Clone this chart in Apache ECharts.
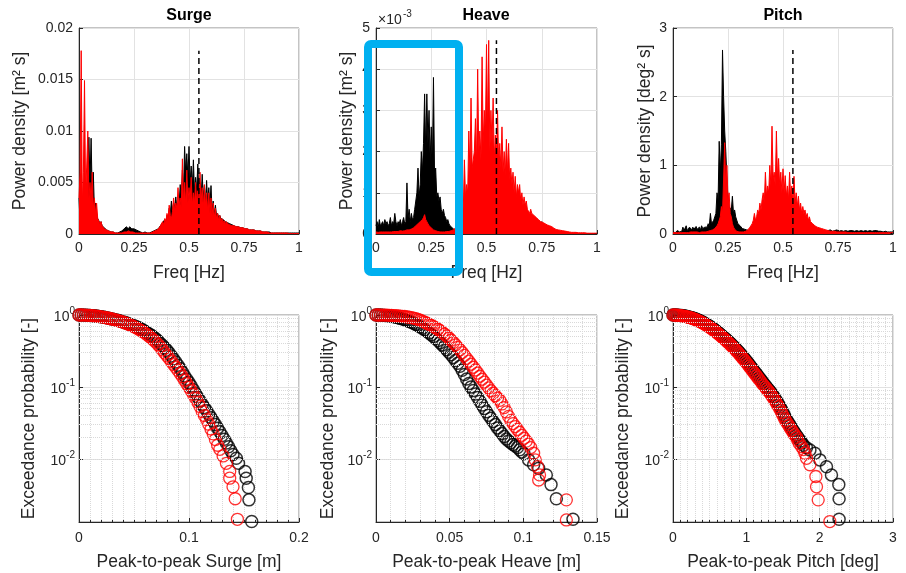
<!DOCTYPE html>
<html><head><meta charset="utf-8">
<script src="https://cdn.jsdelivr.net/npm/echarts@6/dist/echarts.min.js"></script>
<style>html,body{margin:0;padding:0;background:#fff}#c{width:906px;height:573px}</style>
</head><body><div id="c"></div>
<script>
// ---------- DATA ----------
const freq = [0,0.005,0.01,0.015,0.02,0.025,0.03,0.035,0.04,0.045,0.05,0.055,0.06,0.065,0.07,0.075,0.08,0.085,0.09,0.095,
0.1,0.105,0.11,0.115,0.12,0.125,0.13,0.135,0.14,0.145,0.15,0.155,0.16,0.165,0.17,0.175,0.18,0.185,0.19,0.195,
0.2,0.205,0.21,0.215,0.22,0.225,0.23,0.235,0.24,0.245,0.25,0.255,0.26,0.265,0.27,0.275,0.28,0.285,0.29,0.295,
0.3,0.305,0.31,0.315,0.32,0.325,0.33,0.335,0.34,0.345,0.35,0.355,0.36,0.365,0.37,0.375,0.38,0.385,0.39,0.395,
0.4,0.405,0.41,0.415,0.42,0.425,0.43,0.435,0.44,0.445,0.45,0.455,0.46,0.465,0.47,0.475,0.48,0.485,0.49,0.495,
0.5,0.505,0.51,0.515,0.52,0.525,0.53,0.535,0.54,0.545,0.55,0.555,0.56,0.565,0.57,0.575,0.58,0.585,0.59,0.595,
0.6,0.605,0.61,0.615,0.62,0.625,0.63,0.635,0.64,0.645,0.65,0.655,0.66,0.665,0.67,0.675,0.68,0.685,0.69,0.695,
0.7,0.705,0.71,0.715,0.72,0.725,0.73,0.735,0.74,0.745,0.75,0.755,0.76,0.765,0.77,0.775,0.78,0.785,0.79,0.795,
0.8,0.805,0.81,0.815,0.82,0.825,0.83,0.835,0.84,0.845,0.85,0.855,0.86,0.865,0.87,0.875,0.88,0.885,0.89,0.895,
0.9,0.905,0.91,0.915,0.92,0.925,0.93,0.935,0.94,0.945,0.95,0.955,0.96,0.965,0.97,0.975,0.98,0.985,0.99,0.995,1];

const surgePsdBlack = [0.0035,0.0010,0.0030,0.0008,0.0025,0.0010,0.0030,0.0015,0.0060,0.0094,0.0050,0.0093,0.0040,0.0060,0.0025,0.0030,0.0020,0.0015,0.0013,0.0010,
0.0012,0.0008,0.0008,0.0006,0.0006,0.0004,0.0004,0.0003,0.0003,0.0002,0.0002,0.0002,0.0002,0.0001,0.0001,0.0001,0.0002,0.0002,0.0003,0.0003,
0.0004,0.0005,0.0006,0.0007,0.0006,0.0005,0.0007,0.0008,0.0005,0.0006,0.0005,0.0004,0.0004,0.0003,0.0003,0.0002,0.0002,0.0002,0.0001,0.0001,
0.0002,0.0001,0.0001,0.0001,0.0001,0.0002,0.0002,0.0002,0.0003,0.0002,0.0004,0.0003,0.0005,0.0005,0.0008,0.0007,0.0011,0.0010,0.0014,0.0012,
0.0018,0.0016,0.0025,0.0020,0.0032,0.0022,0.0030,0.0026,0.0036,0.0025,0.0030,0.0028,0.0048,0.0035,0.0062,0.0040,0.0085,0.0060,0.0078,0.0055,
0.0085,0.0050,0.0066,0.0045,0.0072,0.0040,0.0055,0.0042,0.0068,0.0038,0.0050,0.0035,0.0058,0.0036,0.0047,0.0030,0.0052,0.0030,0.0045,0.0028,
0.0047,0.0022,0.0032,0.0018,0.0028,0.0018,0.0020,0.0016,0.0018,0.0015,0.0016,0.0014,0.0014,0.0012,0.0012,0.0011,0.0011,0.0010,0.0010,0.0009,
0.0009,0.0008,0.0008,0.0007,0.0007,0.0007,0.0007,0.0006,0.0006,0.0006,0.0006,0.0005,0.0005,0.0005,0.0005,0.0004,0.0004,0.0004,0.0004,0.0004,
0.0004,0.0003,0.0003,0.0003,0.0003,0.0003,0.0003,0.0002,0.0002,0.0002,0.0002,0.0002,0.0002,0.0002,0.0001,0.0001,0.0001,0.0001,0.0001,0.0001,
0.0001,0.0001,0.0001,0.0001,0.0001,0.0001,0.0001,0.0001,0.0001,0.0001,0.0001,0.0001,0.0001,0.0001,0.0001,0.0001,0.0001,0.0001,0.0001,0.0001,0.0001];
const surgePsdRed = [0.0035,0.0060,0.0178,0.0030,0.0060,0.0149,0.0040,0.0065,0.0100,0.0035,0.0050,0.0030,0.0060,0.0025,0.0035,0.0020,0.0030,0.0015,0.0015,0.0010,
0.0012,0.0008,0.0007,0.0005,0.0006,0.0004,0.0004,0.0003,0.0003,0.0002,0.0002,0.0002,0.0001,0.0001,0.0001,0.0001,0.0001,0.0001,0.0001,0.0001,
0.0001,0.0002,0.0002,0.0002,0.0002,0.0003,0.0002,0.0002,0.0002,0.0002,0.0001,0.0001,0.0001,0.0001,0.0001,0.0001,0.0001,0.0001,0.0001,0.0001,
0.0001,0.0001,0.0001,0.0001,0.0001,0.0001,0.0002,0.0002,0.0002,0.0003,0.0003,0.0004,0.0005,0.0006,0.0008,0.0007,0.0012,0.0009,0.0015,0.0012,
0.0020,0.0015,0.0028,0.0018,0.0015,0.0022,0.0035,0.0022,0.0030,0.0025,0.0045,0.0028,0.0035,0.0025,0.0073,0.0030,0.0050,0.0028,0.0062,0.0030,
0.0045,0.0032,0.0055,0.0028,0.0040,0.0030,0.0050,0.0030,0.0042,0.0028,0.0060,0.0030,0.0045,0.0025,0.0048,0.0028,0.0040,0.0022,0.0040,0.0020,
0.0035,0.0018,0.0030,0.0016,0.0025,0.0015,0.0020,0.0013,0.0018,0.0012,0.0015,0.0011,0.0013,0.0010,0.0012,0.0010,0.0010,0.0009,0.0009,0.0008,
0.0009,0.0008,0.0008,0.0007,0.0007,0.0007,0.0007,0.0006,0.0006,0.0006,0.0006,0.0005,0.0005,0.0005,0.0005,0.0004,0.0005,0.0004,0.0004,0.0004,
0.0004,0.0003,0.0004,0.0003,0.0003,0.0003,0.0003,0.0002,0.0002,0.0002,0.0002,0.0002,0.0002,0.0001,0.0001,0.0001,0.0001,0.0001,0.0001,0.0001,
0.0001,0.0001,0.0001,0.0001,0.0001,0.0001,0.0001,0.0001,0.0001,0.0001,0.00005,0.00005,0.00005,0.00005,0.00005,0.00005,0.00005,0.00005,0.00005,0.00005,0.00005];

// heave PSD in units of 1e-3 m^2 s
const heavePsdBlack = [0.2,0.3,0.15,0.35,0.2,0.25,0.3,0.2,0.35,0.25,0.3,0.2,0.25,0.4,0.2,0.3,0.25,0.5,0.3,0.2,
0.3,0.25,0.35,0.2,0.3,0.4,0.25,0.3,1.24,0.4,0.6,0.3,0.5,0.35,0.4,0.6,0.8,1.0,1.6,0.9,
1.2,2.0,1.5,2.2,3.4,2.0,3.4,2.2,3.0,1.8,2.6,1.6,3.8,1.4,1.6,0.9,1.0,0.8,0.9,0.6,
0.5,0.6,0.45,0.4,0.3,0.35,0.25,0.2,0.2,0.15,0.15,0.1,0.1,0.15,0.1,0.12,0.15,0.2,0.15,0.25,
0.3,0.2,0.35,0.25,0.4,0.2,0.3,0.35,0.5,0.25,0.4,0.3,0.35,0.45,0.3,0.35,0.3,0.4,0.5,0.3,
0.4,0.45,0.35,0.5,0.6,0.3,0.5,0.4,0.35,0.45,0.4,0.5,0.45,0.35,0.4,0.3,0.45,0.4,0.35,0.4,
0.5,0.35,0.4,0.45,0.3,0.4,0.35,0.45,0.4,0.3,0.35,0.45,0.4,0.5,0.45,0.4,0.55,0.35,0.4,0.35,
0.35,0.4,0.3,0.35,0.4,0.3,0.35,0.25,0.3,0.25,0.3,0.2,0.25,0.2,0.2,0.15,0.15,0.12,0.1,0.1,
0.1,0.08,0.06,0.05,0.04,0.04,0.03,0.03,0.02,0.02,0.02,0.02,0.02,0.01,0.01,0.01,0.01,0.01,0.01,0.01,
0.01,0.01,0.01,0.01,0.01,0.01,0.01,0.01,0.01,0.01,0.01,0.01,0.01,0.01,0.01,0.01,0.01,0.01,0.01,0.01,0.01];
const heavePsdRed = [0.05,0.05,0.04,0.05,0.05,0.06,0.05,0.05,0.05,0.06,0.05,0.06,0.05,0.06,0.05,0.07,0.06,0.07,0.06,0.07,
0.06,0.07,0.08,0.07,0.07,0.08,0.08,0.09,0.1,0.1,0.1,0.11,0.12,0.13,0.15,0.17,0.2,0.22,0.25,0.27,
0.3,0.32,0.35,0.4,0.47,0.35,0.3,0.25,0.2,0.17,0.15,0.12,0.1,0.09,0.08,0.07,0.06,0.06,0.05,0.05,
0.05,0.05,0.05,0.05,0.06,0.06,0.06,0.07,0.08,0.09,0.1,0.12,0.15,0.2,0.25,0.35,0.5,0.4,0.9,0.6,
1.8,0.9,1.2,1.0,2.5,1.5,3.3,1.6,1.8,2.0,2.8,1.7,4.0,2.0,2.5,1.8,4.3,2.2,3.0,2.4,
4.6,2.5,4.7,2.0,3.0,2.2,3.3,1.8,2.4,1.9,3.0,1.7,2.2,1.6,2.6,1.5,2.0,1.4,2.3,1.5,
2.2,1.3,1.6,1.2,1.5,1.0,1.4,0.9,1.2,1.0,1.2,0.8,1.0,0.7,0.9,0.7,0.8,0.6,0.6,0.5,
0.6,0.5,0.5,0.45,0.45,0.4,0.4,0.35,0.35,0.3,0.3,0.28,0.3,0.25,0.25,0.22,0.2,0.2,0.18,0.18,
0.15,0.14,0.12,0.11,0.1,0.1,0.1,0.09,0.08,0.08,0.07,0.07,0.06,0.06,0.05,0.05,0.05,0.04,0.04,0.04,
0.04,0.04,0.03,0.03,0.03,0.03,0.03,0.03,0.03,0.03,0.02,0.02,0.02,0.02,0.02,0.02,0.02,0.02,0.02,0.02,0.02];

const pitchPsdBlack = [0.03,0.02,0.02,0.04,0.05,0.03,0.03,0.05,0.04,0.1,0.05,0.06,0.12,0.05,0.06,0.1,0.08,0.06,0.1,0.07,
0.08,0.11,0.07,0.08,0.1,0.06,0.12,0.08,0.09,0.1,0.12,0.1,0.15,0.12,0.3,0.15,0.15,0.2,0.25,0.3,
0.6,0.5,1.35,0.9,1.3,2.68,2.0,1.5,1.2,0.8,0.5,0.4,0.4,0.35,0.55,0.3,0.35,0.25,0.2,0.15,
0.15,0.12,0.1,0.08,0.08,0.07,0.08,0.06,0.06,0.05,0.05,0.04,0.05,0.05,0.06,0.05,0.05,0.07,0.06,0.05,
0.06,0.07,0.08,0.06,0.1,0.07,0.06,0.08,0.1,0.07,0.08,0.1,0.12,0.09,0.1,0.08,0.08,0.1,0.1,0.08,
0.12,0.09,0.1,0.08,0.09,0.1,0.08,0.07,0.07,0.1,0.1,0.08,0.08,0.09,0.09,0.07,0.07,0.06,0.06,0.08,
0.08,0.07,0.07,0.06,0.06,0.07,0.07,0.05,0.05,0.06,0.06,0.07,0.07,0.05,0.05,0.06,0.06,0.05,0.05,0.04,
0.04,0.05,0.05,0.06,0.06,0.04,0.04,0.05,0.05,0.06,0.06,0.04,0.04,0.05,0.05,0.04,0.04,0.05,0.05,0.04,
0.06,0.05,0.04,0.05,0.05,0.04,0.04,0.05,0.05,0.04,0.04,0.05,0.05,0.04,0.04,0.05,0.05,0.04,0.04,0.05,
0.05,0.04,0.04,0.05,0.07,0.05,0.05,0.04,0.04,0.04,0.04,0.03,0.03,0.04,0.04,0.03,0.03,0.03,0.03,0.03,0.03];
const pitchPsdRed = [0.02,0.02,0.02,0.02,0.02,0.02,0.02,0.02,0.02,0.02,0.02,0.02,0.02,0.02,0.02,0.02,0.03,0.02,0.03,0.02,
0.03,0.03,0.03,0.02,0.02,0.03,0.03,0.03,0.03,0.03,0.03,0.03,0.04,0.04,0.05,0.05,0.06,0.07,0.08,0.1,
0.12,0.15,0.2,0.25,0.4,0.3,0.8,1.33,0.6,1.0,0.5,0.6,0.3,0.25,0.15,0.1,0.07,0.05,0.04,0.04,
0.03,0.03,0.03,0.03,0.03,0.04,0.04,0.05,0.06,0.08,0.1,0.12,0.15,0.2,0.3,0.2,0.25,0.35,0.3,0.45,
0.35,0.5,0.6,0.45,0.9,0.55,0.7,0.6,1.0,0.7,1.57,0.8,0.9,0.7,1.5,0.8,1.1,0.7,0.9,0.6,
0.95,0.6,0.85,0.55,0.7,0.5,0.9,0.5,0.7,0.45,0.84,0.45,0.6,0.4,0.55,0.35,0.45,0.3,0.4,0.3,
0.35,0.25,0.3,0.2,0.25,0.18,0.2,0.15,0.15,0.12,0.12,0.1,0.1,0.09,0.08,0.08,0.07,0.07,0.06,0.06,
0.05,0.05,0.05,0.04,0.04,0.04,0.04,0.04,0.03,0.03,0.03,0.03,0.03,0.03,0.03,0.03,0.03,0.03,0.02,0.02,
0.02,0.02,0.02,0.02,0.02,0.02,0.02,0.02,0.02,0.02,0.02,0.02,0.02,0.02,0.02,0.02,0.02,0.02,0.02,0.02,
0.02,0.02,0.02,0.02,0.02,0.02,0.02,0.02,0.02,0.02,0.02,0.02,0.02,0.02,0.02,0.02,0.02,0.02,0.02,0.02,0.02];

const peakFreq = 0.545;
const dashTops = [0.0178, 4.7, 2.68];

// exceedance: [peak-to-peak value, probability]
const surgeExcBlack = [[0,1],[0.002,0.9994],[0.004,0.998],[0.006,0.995],[0.008,0.991],[0.010,0.986],[0.012,0.980],[0.014,0.973],[0.016,0.965],[0.018,0.956],[0.020,0.946],[0.022,0.935],[0.024,0.923],[0.026,0.911],[0.028,0.897],[0.030,0.883],[0.032,0.868],[0.034,0.852],[0.036,0.836],[0.038,0.819],[0.040,0.802],[0.042,0.784],[0.044,0.765],[0.046,0.746],[0.048,0.727],[0.050,0.708],[0.052,0.688],[0.054,0.668],[0.056,0.644],[0.058,0.618],[0.060,0.593],[0.062,0.568],[0.064,0.542],[0.066,0.519],[0.068,0.492],[0.070,0.464],[0.072,0.434],[0.074,0.403],[0.076,0.376],[0.078,0.350],[0.080,0.324],[0.082,0.297],[0.084,0.270],[0.086,0.245],[0.088,0.222],[0.090,0.201],[0.092,0.180],[0.094,0.160],[0.096,0.142],[0.098,0.128],[0.100,0.115],[0.102,0.103],[0.104,0.0916],[0.106,0.0813],[0.108,0.0719],[0.110,0.0643],[0.112,0.0573],[0.114,0.0517],[0.116,0.0466],[0.118,0.0418],[0.120,0.0375],[0.122,0.0336],[0.124,0.0300],[0.126,0.0268],[0.128,0.0239],[0.130,0.0212],[0.132,0.0188],[0.134,0.0167],[0.136,0.0148],[0.138,0.0130],[0.140,0.0115],[0.143,0.0102],[0.145,0.0087],[0.151,0.0067],[0.152,0.0054],[0.154,0.0040],[0.1545,0.0027],[0.157,0.00135]];
const surgeExcRed = [[0,1],[0.002,0.9994],[0.004,0.998],[0.006,0.995],[0.008,0.991],[0.010,0.986],[0.012,0.980],[0.014,0.972],[0.016,0.964],[0.018,0.955],[0.020,0.944],[0.022,0.933],[0.024,0.921],[0.026,0.908],[0.028,0.894],[0.030,0.880],[0.032,0.864],[0.034,0.848],[0.036,0.831],[0.038,0.814],[0.040,0.796],[0.042,0.776],[0.044,0.755],[0.046,0.733],[0.048,0.711],[0.050,0.688],[0.052,0.663],[0.054,0.638],[0.056,0.612],[0.058,0.586],[0.060,0.560],[0.062,0.531],[0.064,0.502],[0.066,0.474],[0.068,0.445],[0.070,0.417],[0.072,0.387],[0.074,0.358],[0.076,0.327],[0.078,0.296],[0.080,0.271],[0.082,0.248],[0.084,0.226],[0.086,0.205],[0.088,0.187],[0.090,0.170],[0.092,0.154],[0.094,0.139],[0.096,0.124],[0.098,0.111],[0.100,0.0989],[0.102,0.0886],[0.104,0.0788],[0.106,0.0696],[0.108,0.0612],[0.110,0.0536],[0.112,0.0455],[0.114,0.0401],[0.116,0.0352],[0.118,0.0304],[0.120,0.0261],[0.122,0.0223],[0.124,0.0186],[0.126,0.0155],[0.128,0.0136],[0.131,0.011],[0.134,0.0087],[0.137,0.0067],[0.137,0.0054],[0.140,0.0041],[0.142,0.0028],[0.144,0.00145]];
const heaveExcBlack = [[0,1],[0.0015,0.9991],[0.003,0.9965],[0.0045,0.992],[0.006,0.986],[0.0075,0.978],[0.009,0.969],[0.0105,0.958],[0.012,0.945],[0.0135,0.931],[0.015,0.916],[0.0165,0.898],[0.018,0.879],[0.0195,0.859],[0.021,0.837],[0.0225,0.815],[0.024,0.791],[0.0255,0.766],[0.027,0.740],[0.0285,0.713],[0.030,0.684],[0.0315,0.655],[0.033,0.624],[0.0345,0.594],[0.036,0.562],[0.0375,0.532],[0.039,0.502],[0.0405,0.472],[0.042,0.442],[0.0435,0.413],[0.045,0.384],[0.0465,0.357],[0.048,0.330],[0.0495,0.304],[0.051,0.280],[0.0525,0.257],[0.054,0.234],[0.0555,0.214],[0.057,0.194],[0.0585,0.171],[0.060,0.149],[0.0615,0.129],[0.063,0.112],[0.0645,0.1003],[0.066,0.0892],[0.0675,0.0798],[0.069,0.0712],[0.0705,0.0634],[0.072,0.0563],[0.0735,0.0502],[0.075,0.0452],[0.0765,0.0405],[0.078,0.0367],[0.0795,0.0332],[0.081,0.0300],[0.0825,0.0270],[0.084,0.0246],[0.0855,0.0226],[0.087,0.0205],[0.0885,0.0189],[0.090,0.0178],[0.0915,0.0168],[0.093,0.0159],[0.0945,0.0151],[0.096,0.0144],[0.0975,0.0134],[0.099,0.0125],[0.1005,0.0118],[0.1036,0.0097],[0.107,0.0083],[0.1104,0.0074],[0.1156,0.006],[0.1188,0.0044],[0.1224,0.0028],[0.1337,0.00145]];
const heaveExcRed = [[0,1],[0.0015,0.9997],[0.003,0.9989],[0.0045,0.9974],[0.006,0.9954],[0.0075,0.9929],[0.009,0.990],[0.0105,0.986],[0.012,0.982],[0.0135,0.977],[0.015,0.972],[0.0165,0.966],[0.018,0.960],[0.0195,0.953],[0.021,0.944],[0.0225,0.932],[0.024,0.921],[0.0255,0.906],[0.027,0.889],[0.0285,0.869],[0.030,0.847],[0.0315,0.823],[0.033,0.798],[0.0345,0.768],[0.036,0.743],[0.0375,0.719],[0.039,0.691],[0.0405,0.663],[0.042,0.634],[0.0435,0.605],[0.045,0.574],[0.0465,0.543],[0.048,0.512],[0.0495,0.478],[0.051,0.446],[0.0525,0.414],[0.054,0.385],[0.0555,0.355],[0.057,0.328],[0.0585,0.301],[0.060,0.274],[0.0615,0.250],[0.063,0.228],[0.0645,0.207],[0.066,0.188],[0.0675,0.172],[0.069,0.156],[0.0705,0.141],[0.072,0.128],[0.0735,0.117],[0.075,0.1064],[0.0765,0.0972],[0.078,0.0886],[0.0795,0.0818],[0.081,0.0755],[0.0825,0.0702],[0.084,0.0653],[0.0855,0.0581],[0.087,0.0517],[0.0885,0.0450],[0.090,0.0390],[0.0915,0.0343],[0.093,0.0310],[0.0945,0.0282],[0.096,0.0257],[0.0975,0.0234],[0.099,0.0213],[0.1005,0.0194],[0.102,0.0177],[0.1035,0.0161],[0.105,0.0144],[0.107,0.012],[0.1081,0.0097],[0.1097,0.0078],[0.111,0.006],[0.1104,0.0051],[0.1292,0.0027],[0.1292,0.00142]];
const pitchExcBlack = [[0,1],[0.02,0.9995],[0.04,0.9979],[0.06,0.9952],[0.08,0.9915],[0.10,0.9867],[0.12,0.9810],[0.14,0.9742],[0.16,0.9664],[0.18,0.9577],[0.20,0.9480],[0.22,0.9374],[0.24,0.9260],[0.26,0.9138],[0.28,0.9006],[0.30,0.8858],[0.32,0.8700],[0.34,0.8536],[0.36,0.8362],[0.38,0.8177],[0.40,0.7988],[0.42,0.7790],[0.44,0.7586],[0.46,0.7375],[0.48,0.7166],[0.50,0.6958],[0.52,0.6747],[0.54,0.6534],[0.56,0.6318],[0.58,0.6101],[0.60,0.5884],[0.62,0.5671],[0.64,0.5458],[0.66,0.5248],[0.68,0.5038],[0.70,0.4836],[0.72,0.4637],[0.74,0.4445],[0.76,0.4258],[0.78,0.4074],[0.80,0.3894],[0.82,0.3718],[0.84,0.3547],[0.86,0.3380],[0.88,0.3218],[0.90,0.3054],[0.92,0.2894],[0.94,0.2742],[0.96,0.2594],[0.98,0.2449],[1.00,0.2312],[1.02,0.2180],[1.04,0.2052],[1.06,0.1929],[1.08,0.1812],[1.10,0.1699],[1.12,0.1602],[1.14,0.1509],[1.16,0.1420],[1.18,0.1335],[1.20,0.1255],[1.22,0.1178],[1.24,0.1105],[1.26,0.1044],[1.28,0.0986],[1.30,0.0931],[1.32,0.0879],[1.34,0.0830],[1.36,0.0777],[1.38,0.0723],[1.40,0.0670],[1.42,0.0622],[1.44,0.0575],[1.46,0.0531],[1.48,0.0485],[1.50,0.0442],[1.52,0.0402],[1.54,0.0365],[1.56,0.0337],[1.58,0.0312],[1.60,0.0289],[1.62,0.0268],[1.64,0.0248],[1.66,0.0231],[1.68,0.0215],[1.70,0.0201],[1.72,0.0188],[1.74,0.0177],[1.76,0.0166],[1.78,0.0155],[1.82,0.0143],[1.867,0.0133],[1.935,0.012],[2.003,0.0097],[2.093,0.0078],[2.161,0.006],[2.261,0.0044],[2.265,0.0028],[2.265,0.00145]];
const pitchExcRed = [[0,1],[0.02,0.9979],[0.04,0.9952],[0.06,0.9915],[0.08,0.9867],[0.10,0.9810],[0.12,0.9742],[0.14,0.9664],[0.16,0.9577],[0.18,0.9480],[0.20,0.9374],[0.22,0.9260],[0.24,0.9138],[0.26,0.9006],[0.28,0.8858],[0.30,0.8700],[0.32,0.8536],[0.34,0.8362],[0.36,0.8177],[0.38,0.7988],[0.40,0.7790],[0.42,0.7586],[0.44,0.7375],[0.46,0.7166],[0.48,0.6958],[0.50,0.6747],[0.52,0.6534],[0.54,0.6318],[0.56,0.6101],[0.58,0.5884],[0.60,0.5671],[0.62,0.5458],[0.64,0.5248],[0.66,0.5038],[0.68,0.4836],[0.70,0.4637],[0.72,0.4445],[0.74,0.4258],[0.76,0.4074],[0.78,0.3894],[0.80,0.3718],[0.82,0.3547],[0.84,0.3380],[0.86,0.3218],[0.88,0.3054],[0.90,0.2894],[0.92,0.2742],[0.94,0.2594],[0.96,0.2449],[0.98,0.2312],[1.00,0.2180],[1.02,0.2052],[1.04,0.1929],[1.06,0.1812],[1.08,0.1699],[1.10,0.1602],[1.12,0.1509],[1.14,0.1420],[1.16,0.1335],[1.18,0.1255],[1.20,0.1178],[1.22,0.1105],[1.24,0.1044],[1.26,0.0986],[1.28,0.0931],[1.30,0.0879],[1.32,0.0830],[1.34,0.0777],[1.36,0.0723],[1.38,0.0670],[1.40,0.0622],[1.42,0.0575],[1.44,0.0531],[1.46,0.0485],[1.48,0.0442],[1.50,0.0402],[1.52,0.0365],[1.54,0.0337],[1.56,0.0312],[1.58,0.0289],[1.60,0.0268],[1.62,0.0248],[1.64,0.0231],[1.66,0.0215],[1.686,0.0200],[1.70,0.0184],[1.72,0.0165],[1.753,0.0148],[1.78,0.0135],[1.799,0.012],[1.821,0.0102],[1.867,0.0083],[1.948,0.0057],[1.957,0.0041],[1.98,0.0027],[2.139,0.00135]];

const titles = ['Surge','Heave','Pitch'];
const psdYNames = ['Power density [m\u00b2 s]','Power density [m\u00b2 s]','Power density [deg\u00b2 s]'];
const psdYMax = [0.02, 5, 3];
const psdYInterval = [0.005, 1, 1];
const excXNames = ['Peak-to-peak Surge [m]','Peak-to-peak Heave [m]','Peak-to-peak Pitch [deg]'];
const excXMax = [0.2, 0.15, 3];
const excXInterval = [0.1, 0.05, 1];
const excXMinorSplit = [10, 5, 10];
const logMinorTicks = [0.002,0.003,0.004,0.005,0.006,0.007,0.008,0.009,0.02,0.03,0.04,0.05,0.06,0.07,0.08,0.09,0.2,0.3,0.4,0.5,0.6,0.7,0.8,0.9];

// ---------- CHART ----------
const FONT = 'Liberation Sans, Arial, Helvetica, sans-serif';
const TXT = '#262626';
const lefts = [79, 376, 673];
const widths = [220, 221, 220];
const psdNameGap = [50, 20, 19];
const excNameGap = [41, 39, 41];

const grids = [], xAxes = [], yAxes = [], series = [];
const psdBlack = [surgePsdBlack, heavePsdBlack, pitchPsdBlack];
const psdRed = [surgePsdRed, heavePsdRed, pitchPsdRed];
const excBlack = [surgeExcBlack, heaveExcBlack, pitchExcBlack];
const excRed = [surgeExcRed, heaveExcRed, pitchExcRed];

function pairs(vals){ return freq.map((f,i)=>[f, vals[i]]); }

const axisLine = {show:true, onZero:false, lineStyle:{color:TXT, width:1}};
const axisTick = {show:true, inside:true, length:4, lineStyle:{color:TXT}};
const splitLine = {show:true, lineStyle:{color:'#e2e2e2', width:1}};
const label = {color:TXT, fontSize:14, fontFamily:FONT};
const nameStyle = {color:TXT, fontSize:17.5, fontFamily:FONT};

for (let k=0;k<3;k++){
  grids.push({left:lefts[k], top:28, width:widths[k], height:206, show:true, borderColor:'#888', borderWidth:1, backgroundColor:'transparent'});
  xAxes.push({gridIndex:k, type:'value', min:0, max:1, interval:0.25, axisLine, axisTick, splitLine,
    axisLabel:{...label, margin:7}, name:'Freq [Hz]', nameLocation:'middle', nameGap:30, nameTextStyle:nameStyle});
  yAxes.push({gridIndex:k, type:'value', min:0, max:psdYMax[k], interval:psdYInterval[k], axisLine, axisTick, splitLine,
    axisLabel:{...label, margin:6}, name:psdYNames[k], nameLocation:'middle', nameGap:psdNameGap[k], nameTextStyle:nameStyle});
  series.push({type:'line', xAxisIndex:k, yAxisIndex:k, data:pairs(psdBlack[k]), showSymbol:false, symbol:'none',
    lineStyle:{color:'#000', width:1}, areaStyle:{color:'#000', opacity:1}, animation:false, z:2});
  series.push({type:'line', xAxisIndex:k, yAxisIndex:k, data:pairs(psdRed[k]), showSymbol:false, symbol:'none',
    lineStyle:{color:'#ff0000', width:1}, areaStyle:{color:'#ff0000', opacity:1}, animation:false, z:3});
  series.push({type:'line', xAxisIndex:k, yAxisIndex:k, data:[[peakFreq,0],[peakFreq,dashTops[k]]], showSymbol:false, symbol:'none',
    lineStyle:{color:'#000', width:1.5, type:[6,4]}, animation:false, z:4});
}
for (let k=0;k<3;k++){
  const g = 3+k;
  grids.push({left:lefts[k], top:315, width:widths[k], height:207, show:true, borderColor:'#888', borderWidth:1, backgroundColor:'transparent'});
  xAxes.push({gridIndex:g, type:'value', min:0, max:excXMax[k], interval:excXInterval[k], axisLine, axisTick, splitLine,
    minorTick:{show:true, splitNumber:excXMinorSplit[k], length:2, lineStyle:{color:TXT}},
    minorSplitLine:{show:true, lineStyle:{color:'#d9d9d9', type:'dotted', width:1}},
    axisLabel:{...label, margin:9}, name:excXNames[k], nameLocation:'middle', nameGap:31, nameTextStyle:nameStyle});
  yAxes.push({gridIndex:g, type:'log', logBase:10, min:0.00133, max:1, axisLine, axisTick, splitLine,
    axisLabel:{...label, margin:4, showMinLabel:false,
      formatter:function(v){ return '{b|10}{s|' + Math.round(Math.log10(v)) + '}'; },
      rich:{b:{fontSize:14, fontFamily:FONT, color:TXT, verticalAlign:'bottom', lineHeight:18},
            s:{fontSize:10, fontFamily:FONT, color:TXT, verticalAlign:'top', lineHeight:18}}},
    name:'Exceedance probability [-]', nameLocation:'middle', nameGap:excNameGap[k], nameTextStyle:nameStyle});
  series.push({type:'line', xAxisIndex:g, yAxisIndex:g, data:[], z:1, animation:false,
    markLine:{silent:true, symbol:'none', animation:false, label:{show:false},
      lineStyle:{color:'#d9d9d9', type:'dotted', width:1},
      data: logMinorTicks.map(v=>({yAxis:v}))}});
  series.push({type:'scatter', xAxisIndex:g, yAxisIndex:g, data:excBlack[k], symbol:'circle', symbolSize:12,
    itemStyle:{color:'rgba(0,0,0,0)', borderColor:'#000', borderWidth:1.5}, animation:false, z:2});
  series.push({type:'scatter', xAxisIndex:g, yAxisIndex:g, data:excRed[k], symbol:'circle', symbolSize:12,
    itemStyle:{color:'rgba(0,0,0,0)', borderColor:'#ff0000', borderWidth:1.3}, animation:false, z:3});
}

const graphics = [];
const titleX = [189, 486, 783];
for (let k=0;k<3;k++){
  graphics.push({type:'text', x:titleX[k], y:16, z:10,
    style:{text:titles[k], fill:'#000', font:'bold 16px '+FONT, align:'center', verticalAlign:'middle', textAlign:'center', textVerticalAlign:'middle'}});
}
graphics.push({type:'text', x:378, y:20, z:10, style:{text:'\u00d710', fill:TXT, font:'14px '+FONT, align:'left', verticalAlign:'middle', textAlign:'left', textVerticalAlign:'middle'}});
graphics.push({type:'text', x:403, y:14, z:10, style:{text:'-3', fill:TXT, font:'10px '+FONT, align:'left', verticalAlign:'middle', textAlign:'left', textVerticalAlign:'middle'}});
graphics.push({type:'rect', z:20, shape:{x:368, y:44, width:91, height:228, r:3},
  style:{fill:'none', stroke:'#00B0F0', lineWidth:8}});

const chart = echarts.init(document.getElementById('c'), null, {renderer:'canvas'});
chart.setOption({animation:false, backgroundColor:'#fff', grid:grids, xAxis:xAxes, yAxis:yAxes, series, graphic:graphics});
</script></body></html>
